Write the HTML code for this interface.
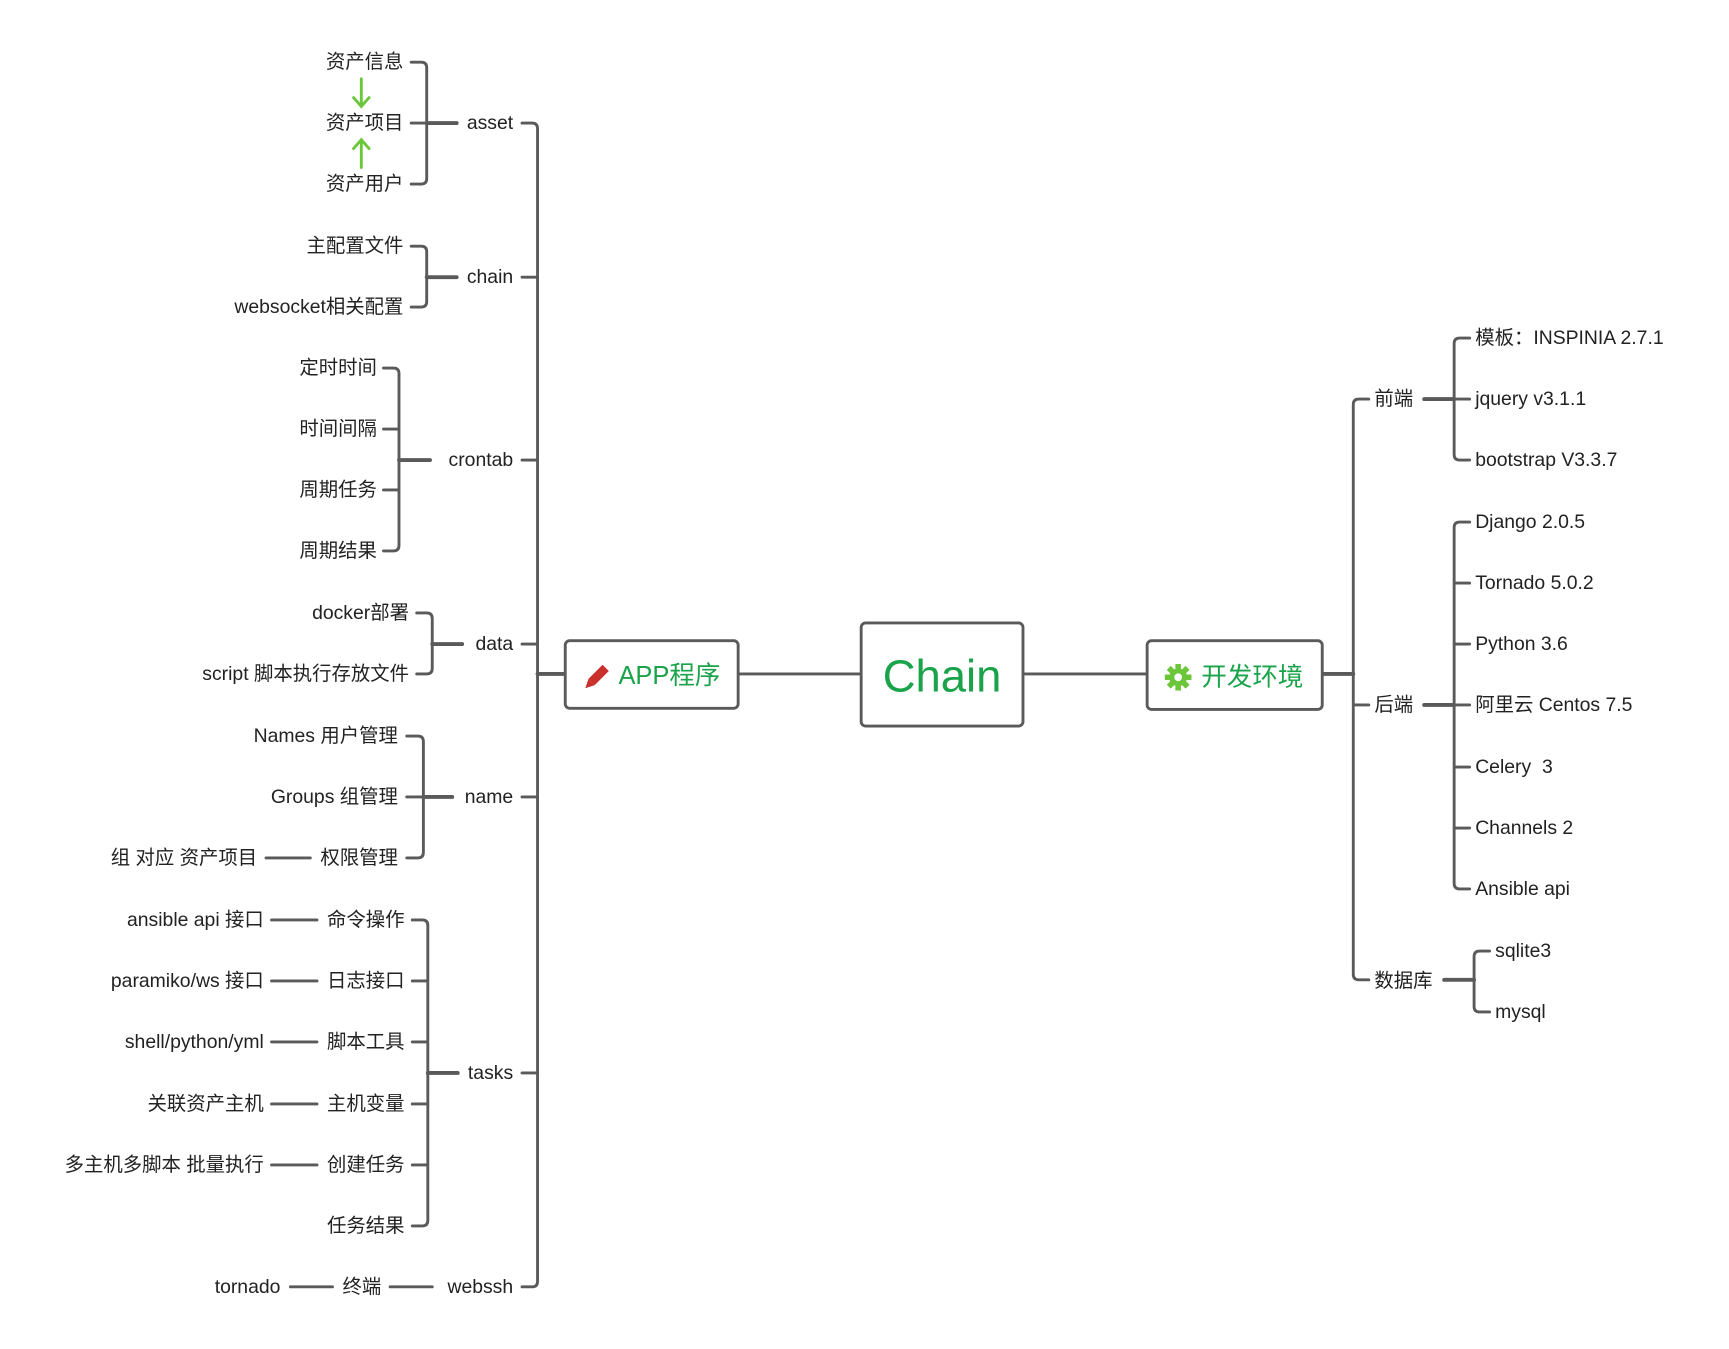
<!DOCTYPE html>
<html><head><meta charset="utf-8"><style>
html,body{margin:0;padding:0;background:#fff;}
svg{display:block}
text{font-family:"Liberation Sans","Noto Sans CJK SC",sans-serif;font-size:17.5px;fill:#222;dominant-baseline:central}
.r{text-anchor:end}
</style></head><body>
<svg width="1729" height="1349" viewBox="0 0 1560 1217" xmlns="http://www.w3.org/2000/svg">
<g fill="none" stroke="#5a5a5a" stroke-width="2.6" stroke-linecap="round">
<path d="M471,111 H480 Q485,111 485,116 V1156 Q485,1161 480,1161 H471"/>
<path d="M471,250 H485 M471,415 H485 M471,581 H485 M471,719 H485 M471,968 H485"/>
<path d="M485,608 H510" stroke-width="3.5"/>
<path d="M371,56 H380 Q385,56 385,61 V161 Q385,166 380,166 H371 M371,111 H385"/>
<path d="M385,111 H412" stroke-width="3.5"/>
<path d="M371,222 H380 Q385,222 385,227 V272 Q385,277 380,277 H371"/>
<path d="M385,250 H412" stroke-width="3.5"/>
<path d="M346,332 H355 Q360,332 360,337 V492 Q360,497 355,497 H346 M346,387 H360 M346,442 H360"/>
<path d="M360,415 H388" stroke-width="3.5"/>
<path d="M376,553 H385 Q390,553 390,558 V603 Q390,608 385,608 H376"/>
<path d="M390,581 H417" stroke-width="3.5"/>
<path d="M367,664 H377 Q382,664 382,669 V769 Q382,774 377,774 H367 M367,719 H382"/>
<path d="M382,719 H408" stroke-width="3.5"/>
<path d="M240,774 H280"/>
<path d="M372,830 H381 Q386,830 386,835 V1101 Q386,1106 381,1106 H372 M372,885 H386 M372,940 H386 M372,996 H386 M372,1051 H386"/>
<path d="M386,968 H413" stroke-width="3.5"/>
<path d="M245,830 H286 M245,885 H286 M245,940 H286 M245,996 H286 M245,1051 H286"/>
<path d="M262,1161 H300 M352,1161 H390"/>
<path d="M666,608 H777 M923,608 H1035"/>
<path d="M1193,608 H1221" stroke-width="3.5"/>
<path d="M1235,360 H1226 Q1221,360 1221,365 V879 Q1221,884 1226,884 H1235 M1221,636 H1235"/>
<path d="M1285,360 H1312 M1285,636 H1312 M1303,884 H1330" stroke-width="3.5"/>
<path d="M1326,305 H1317 Q1312,305 1312,310 V410 Q1312,415 1317,415 H1326 M1312,360 H1326"/>
<path d="M1326,471 H1317 Q1312,471 1312,476 V797 Q1312,802 1317,802 H1326 M1312,526 H1326 M1312,581 H1326 M1312,636 H1326 M1312,692 H1326 M1312,747 H1326"/>
<path d="M1344,858 H1335 Q1330,858 1330,863 V908 Q1330,913 1335,913 H1344"/>
</g>
<g stroke="#6cc63a" stroke-width="2.6" fill="none" stroke-linecap="round">
<path d="M326,71 V96 M319,88 L326,96 L333,88"/>
<path d="M326,151 V126 M319,134 L326,126 L333,134"/>
</g>
<g fill="#fff" stroke="#5a5a5a" stroke-width="2.6">
<rect x="510" y="578" width="156" height="61" rx="4"/>
<rect x="777" y="562" width="146" height="93" rx="4"/>
<rect x="1035" y="578" width="158" height="62" rx="4"/>
</g>
<g transform="translate(538,611) rotate(45)">
<rect x="-4" y="-12" width="8" height="18" fill="#c9302c"/>
<path d="M-4,6 L4,6 L0,14 Z" fill="#c9302c"/>
</g>
<g transform="translate(1063,611)" fill="#6cc63a">
<circle r="8"/>
<g><rect x="-2.5" y="-12" width="5" height="24"/><rect x="-12" y="-2.5" width="24" height="5"/>
<rect x="-2.5" y="-12" width="5" height="24" transform="rotate(45)"/><rect x="-2.5" y="-12" width="5" height="24" transform="rotate(-45)"/></g>
<circle r="3.5" fill="#fff"/>
</g>
<text x="558" y="610" style="font-size:23px;fill:#1aa34a">APP程序</text>
<text x="850" y="610" style="font-size:41px;fill:#1aa34a;text-anchor:middle">Chain</text>
<text x="1084" y="611" style="font-size:23px;fill:#1aa34a">开发环境</text>
<g>
<text class="r" x="463" y="111">asset</text>
<text class="r" x="463" y="250">chain</text>
<text class="r" x="463" y="415">crontab</text>
<text class="r" x="463" y="581">data</text>
<text class="r" x="463" y="719">name</text>
<text class="r" x="463" y="968">tasks</text>
<text class="r" x="463" y="1161">webssh</text>
<text class="r" x="364" y="56">资产信息</text>
<text class="r" x="364" y="111">资产项目</text>
<text class="r" x="364" y="166">资产用户</text>
<text class="r" x="364" y="222">主配置文件</text>
<text class="r" x="364" y="277">websocket相关配置</text>
<text class="r" x="340" y="332">定时时间</text>
<text class="r" x="340" y="387">时间间隔</text>
<text class="r" x="340" y="442">周期任务</text>
<text class="r" x="340" y="497">周期结果</text>
<text class="r" x="369" y="553">docker部署</text>
<text class="r" x="369" y="608">script 脚本执行存放文件</text>
<text class="r" x="359" y="664">Names 用户管理</text>
<text class="r" x="359" y="719">Groups 组管理</text>
<text class="r" x="359" y="774">权限管理</text>
<text class="r" x="232" y="774">组 对应 资产项目</text>
<text class="r" x="365" y="830">命令操作</text>
<text class="r" x="365" y="885">日志接口</text>
<text class="r" x="365" y="940">脚本工具</text>
<text class="r" x="365" y="996">主机变量</text>
<text class="r" x="365" y="1051">创建任务</text>
<text class="r" x="365" y="1106">任务结果</text>
<text class="r" x="238" y="830">ansible api 接口</text>
<text class="r" x="238" y="885">paramiko/ws 接口</text>
<text class="r" x="238" y="940">shell/python/yml</text>
<text class="r" x="238" y="996">关联资产主机</text>
<text class="r" x="238" y="1051">多主机多脚本 批量执行</text>
<text class="r" x="253" y="1161">tornado</text>
<text class="r" x="344" y="1161">终端</text>
</g>
<text x="1240" y="360">前端</text>
<text x="1240" y="636">后端</text>
<text x="1240" y="885">数据库</text>
<text x="1331" y="305">模板：INSPINIA 2.7.1</text>
<text x="1331" y="360">jquery v3.1.1</text>
<text x="1331" y="415">bootstrap V3.3.7</text>
<text x="1331" y="471">Django 2.0.5</text>
<text x="1331" y="526">Tornado 5.0.2</text>
<text x="1331" y="581">Python 3.6</text>
<text x="1331" y="636">阿里云 Centos 7.5</text>
<text x="1331" y="692">Celery&#160; 3</text>
<text x="1331" y="747">Channels 2</text>
<text x="1331" y="802">Ansible api</text>
<text x="1349" y="858">sqlite3</text>
<text x="1349" y="913">mysql</text>
</svg>
</body></html>
